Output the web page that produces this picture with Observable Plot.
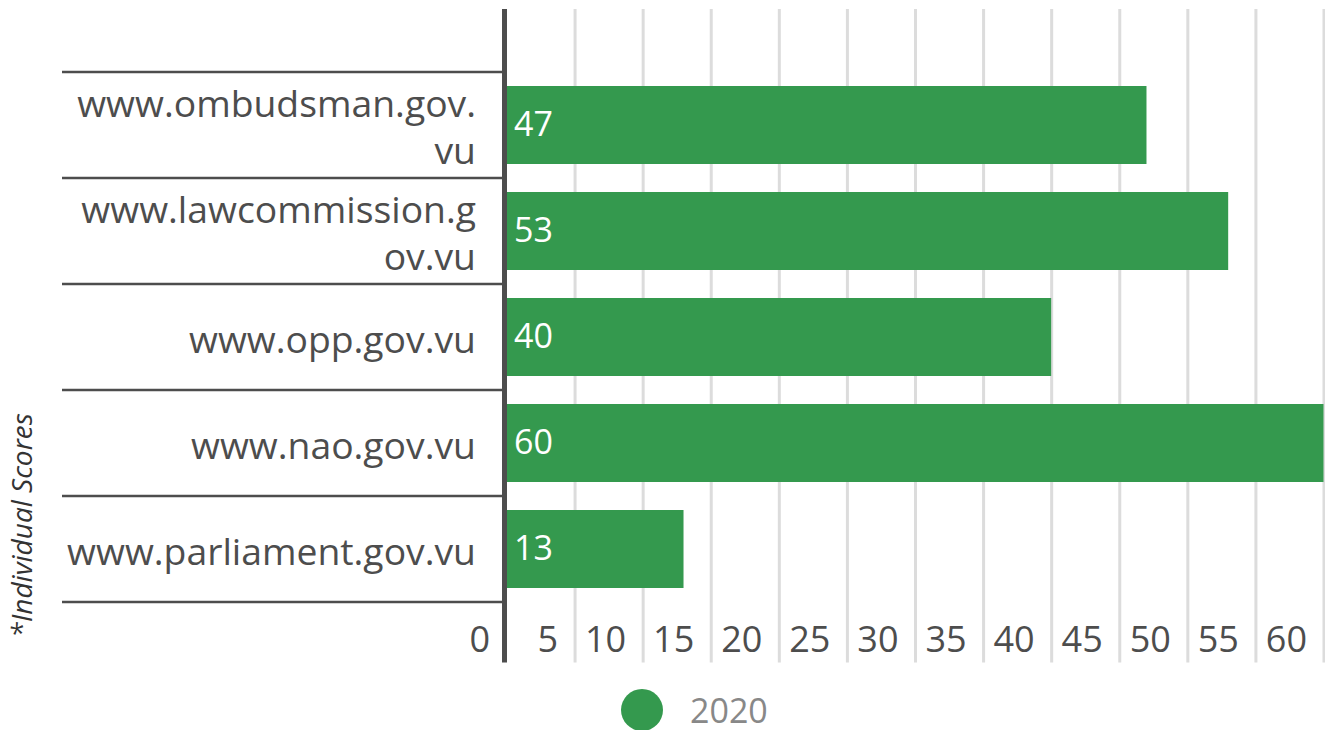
<!DOCTYPE html>
<html>
<head>
<meta charset="utf-8">
<script src="https://cdn.jsdelivr.net/npm/d3@7"></script>
<script src="https://cdn.jsdelivr.net/npm/@observablehq/plot@0.6"></script>
<style>
  html, body { margin: 0; padding: 0; background: #fff; overflow: hidden; }
  body { font-family: "Open Sans", sans-serif; width: 1325px; height: 730px; }
  #chart svg { display: block; }
  #legend { position: relative; width: 1325px; height: 65px; }
  #legend .dot { position: absolute; left: 621px; top: 24px; width: 42px; height: 42px; border-radius: 50%; background: #34994e; }
  #legend .lab { position: absolute; left: 690px; top: 30px; font-size: 34px; line-height: 30px; color: #888888; }
</style>
</head>
<body>
<div id="chart"></div>
<div id="legend"></div>
<script>
const categories = [
  "www.ombudsman.gov.vu",
  "www.lawcommission.gov.vu",
  "www.opp.gov.vu",
  "www.nao.gov.vu",
  "www.parliament.gov.vu"
];
const categoryLabels = [
  "www.ombudsman.gov.\nvu",
  "www.lawcommission.g\nov.vu",
  "www.opp.gov.vu",
  "www.nao.gov.vu",
  "www.parliament.gov.vu"
];
const scores2020 = [47, 53, 40, 60, 13];
const xTicks = [0, 5, 10, 15, 20, 25, 30, 35, 40, 45, 50, 55, 60];
const seriesName = "2020";
const axisNote = "*Individual Scores";

const green = "#34994e";
const dark = "#4d4d4d";

const data = categories.map((c, i) => ({site: c, score: scores2020[i]}));

const chart = Plot.plot({
  width: 1325,
  height: 665,
  marginLeft: 506.5,
  marginRight: 1.5,
  marginTop: 9,
  marginBottom: 2.5,
  style: {fontFamily: "'Open Sans', sans-serif", background: "#fff", overflow: "visible"},
  x: {domain: [0, 60]},
  y: {domain: categories, range: [71.3, 602.6], paddingInner: 0.266, paddingOuter: 0.133},
  marks: [
    Plot.ruleX(xTicks.filter(d => d > 0), {stroke: "#dcdcdc", strokeWidth: 3}),
    Plot.barX(data, {y: "site", x: "score", fill: green}),
    Plot.ruleX([0], {stroke: dark, strokeWidth: 5, dx: -2.5}),
    Plot.text(data, {y: "site", x: 0, text: d => String(d.score), textAnchor: "start", dx: 7, fill: "white", fontSize: 34}),
    Plot.axisY({
      label: null,
      tickSize: 0, tickPadding: 31,
      tickFormat: d => categoryLabels[categories.indexOf(d)],
      fontSize: 37.3, color: dark, lineHeight: 1.26
    }),
    Plot.axisX({
      label: null,
      ticks: xTicks, tickSize: 0, tickPadding: 3, dy: -40, dx: -17,
      textAnchor: "end", fontSize: 36, color: dark
    })
  ]
});

// category separator lines in the left margin, from the y band scale
const ys = chart.scale("y");
const gap = (ys.step - ys.bandwidth) / 2;
const bounds = categories.map(c => ys.apply(c) - gap);
bounds.push(ys.apply(categories[categories.length - 1]) + ys.bandwidth + gap);
const svg = d3.select(chart);
svg.append("g")
  .selectAll("line")
  .data(bounds)
  .join("line")
  .attr("x1", 62).attr("x2", 502)
  .attr("y1", d => d).attr("y2", d => d)
  .attr("stroke", dark).attr("stroke-width", 2.7);

svg.append("text")
  .attr("transform", "translate(32,525.5) rotate(-90)")
  .attr("text-anchor", "middle")
  .attr("font-style", "italic")
  .attr("font-size", 28)
  .attr("fill", "#333")
  .text(axisNote);

document.getElementById("chart").appendChild(chart);

const legend = d3.select("#legend");
legend.append("span").attr("class", "dot");
legend.append("span").attr("class", "lab").text(seriesName);
</script>
</body>
</html>
